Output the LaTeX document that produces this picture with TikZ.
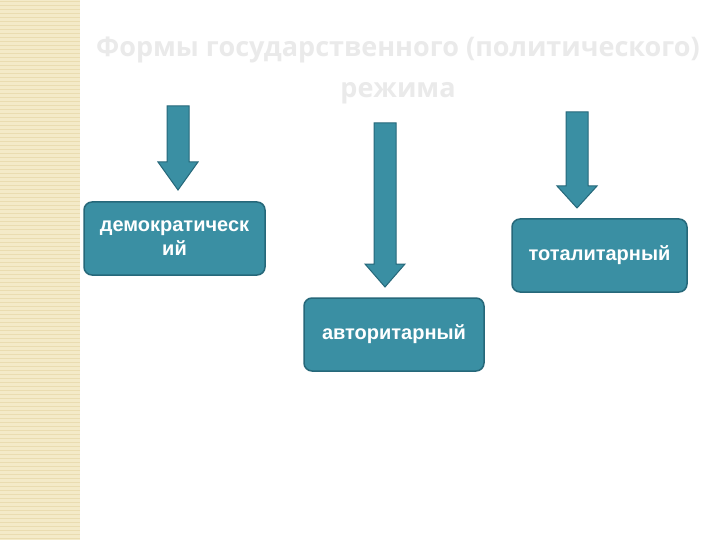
\documentclass[tikz,border=0pt]{standalone}
\usepackage{fontspec}
\setmainfont{Liberation Sans}
\newfontfamily\titlefont{Open Sans}
\usetikzlibrary{positioning}
\definecolor{boxfill}{RGB}{58,143,163}
\definecolor{boxline}{RGB}{38,104,122}
\definecolor{stripfill}{RGB}{244,234,200}
\definecolor{stripline}{RGB}{234,220,176}
\definecolor{titlegray}{RGB}{234,234,234}
\tikzset{
  formbox/.style={draw=boxline,line width=1.5pt,fill=boxfill,rounded corners=8pt,
    text=white,font=\bfseries\fontsize{20}{24}\selectfont,align=center,
    minimum height=73pt,inner sep=2pt},
  fatarr/.style={draw=boxline,line width=1pt,fill=boxfill}
}
% x tip, y top, y neck, y tip
\newcommand{\fatarrow}[4]{%
  \draw[fatarr] (#1-11,#2) -- (#1+11,#2) -- (#1+11,#3) -- (#1+20,#3)
    -- (#1,#4) -- (#1-20,#3) -- (#1-11,#3) -- cycle;}

\begin{document}
\begin{tikzpicture}[x=1pt,y=-1pt]
		\useasboundingbox (0,0) rectangle (720,540);
		\fill[white] (0,0) rectangle (720,540);
		% left strip
		\fill[stripfill] (0,0) rectangle (80,540);
		\foreach \y in {2,6,...,540}
			\draw[stripline,line width=1pt] (0,\y) -- (80,\y);
		% title
		\node[text=titlegray,font=\titlefont\bfseries\fontsize{27}{41}\selectfont,align=center] (title) at (398,70)
			{Формы государственного (политического)\\режима};
		% arrows
		\fatarrow{178}{106}{162}{190}
		\fatarrow{385}{123}{264}{287}
		\fatarrow{577}{112}{186}{208}
		% boxes
		\node[formbox,minimum width=181pt] (demo) at (174.5,238.5) {демократическ\\ий};
		\node[formbox,minimum width=180pt] (avto) at (394,334.5) {авторитарный};
		\node[formbox,minimum width=175pt] (total) at (599.5,255.5) {тоталитарный};
\end{tikzpicture}
\end{document}
